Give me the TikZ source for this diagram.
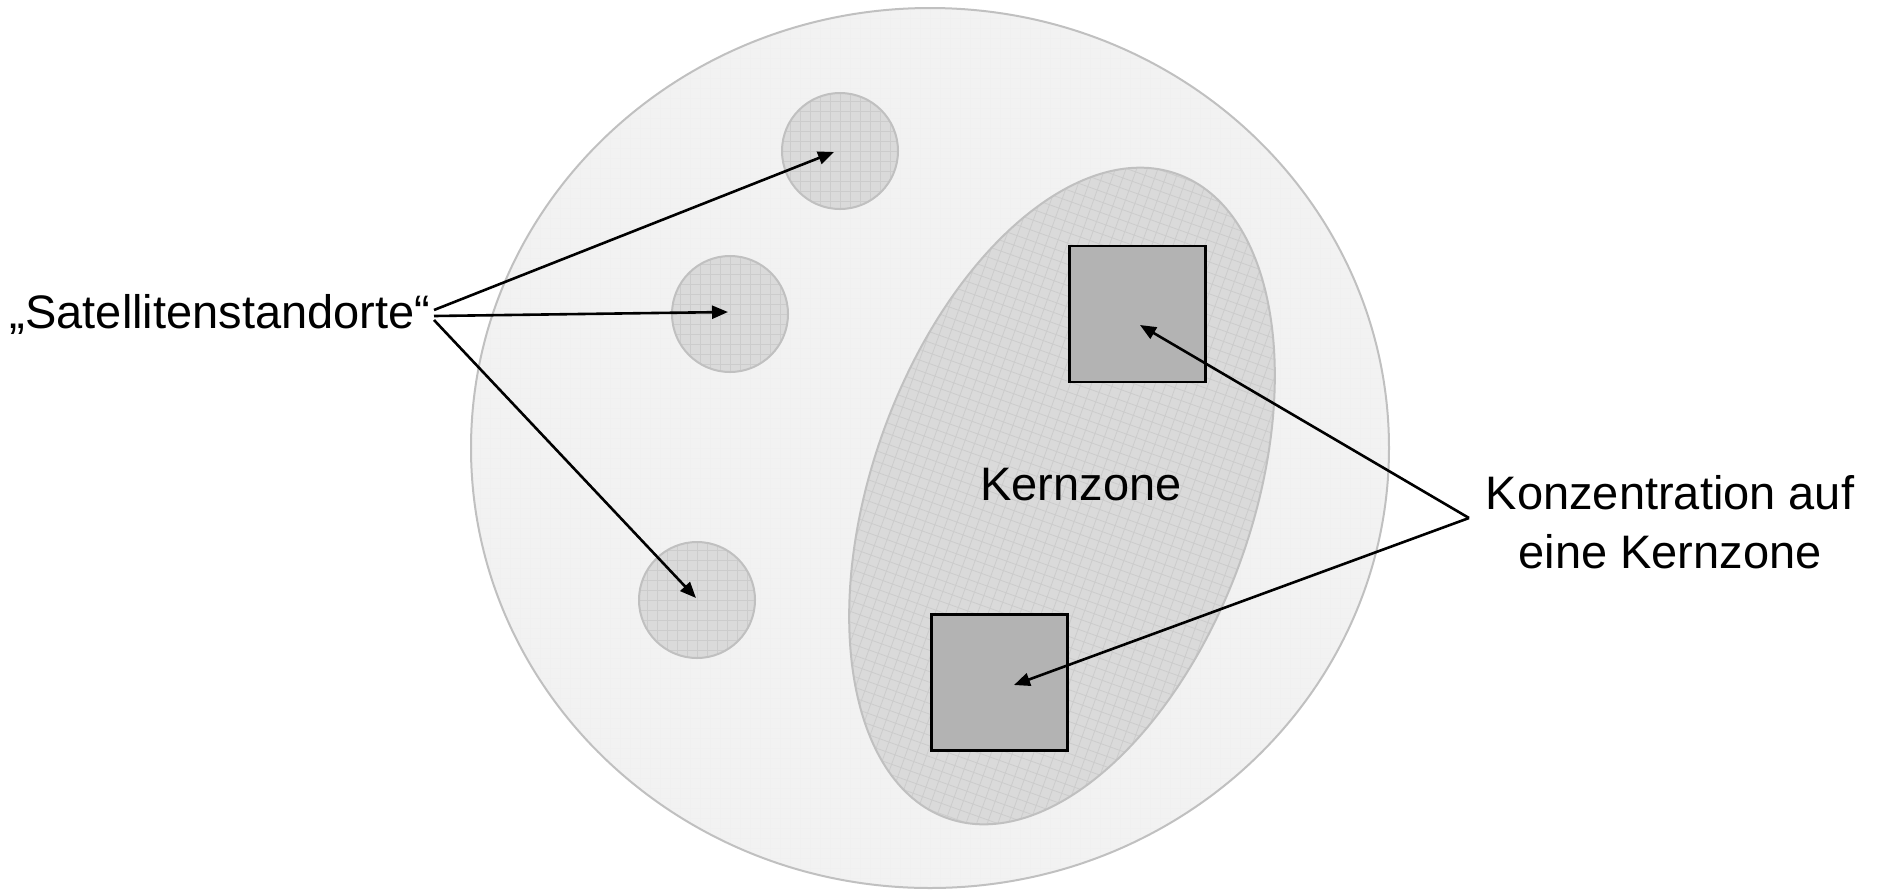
\documentclass[tikz,border=0pt]{standalone}
\usepackage{fontspec}
\setmainfont{Liberation Sans}
\usetikzlibrary{arrows.meta,shapes.geometric}

\definecolor{areafill}{HTML}{F2F2F2}
\definecolor{zonefill}{HTML}{DADADA}
\definecolor{zoneline}{HTML}{C0C0C0}
\definecolor{corefill}{HTML}{B3B3B3}

\tikzset{
  labeltext/.style={font=\fontsize{23.5}{29.4}\selectfont, align=center, inner sep=0pt},
  gridfill/.style={path picture={
      \draw[#1, line width=0.4pt]
        ([xshift=-240pt,yshift=-240pt]path picture bounding box.center)
        grid[step=5pt]
        ([xshift=240pt,yshift=240pt]path picture bounding box.center);}},
  area/.style={ellipse, draw=zoneline, line width=1pt, fill=areafill,
    gridfill=black!6, inner sep=0pt},
  satellite/.style={circle, draw=zoneline, line width=1pt, fill=zonefill,
    gridfill=black!20, minimum size=58pt, inner sep=0pt},
  corezone/.style={ellipse, draw=zoneline, line width=1pt, fill=zonefill,
    inner sep=0pt},
  corebox/.style={rectangle, draw=black, line width=1.2pt, fill=corefill,
    minimum size=68pt, inner sep=0pt},
  pointer/.style={-{Triangle[length=8pt,width=6.5pt]}, line width=1.3pt}
}

\begin{document}
\begin{tikzpicture}[x=0.5pt,y=-0.5pt]
  \useasboundingbox (0,0) rectangle (1881,890);

  % whole area and core zone
  \node[area, minimum width=459pt, minimum height=440pt] (gebiet) at (930,448) {};
  \node[corezone, gridfill={black!20,rotate=-70.3}, rotate=70.3,
    minimum width=342pt, minimum height=190pt] (kern) at (1062,496) {};

  % satellite sites
  \node[satellite] (sat1) at (840,151) {};
  \node[satellite] (sat2) at (730,314) {};
  \node[satellite] (sat3) at (697,600) {};

  % concentrated sites
  \node[corebox] (box1) at (1137.5,314) {};
  \node[corebox] (box2) at (999.5,682.5) {};

  \node[labeltext] (kernlabel) at (1081,485) {Kernzone};
  \node[labeltext] (satlabel) at (220,314) {„Satellitenstandorte“};
  \node[labeltext] (konzlabel) at (1670,522) {Konzentration auf\\eine Kernzone};

  \coordinate (satA) at (434,310);
  \coordinate (satB) at (434,316);
  \coordinate (satC) at (434,320);
  \coordinate (konzA) at (1469,518);

  \draw[pointer] (satA) -- (834,152);
  \draw[pointer] (satB) -- (728,312);
  \draw[pointer] (satC) -- (696,598);
  \draw[pointer] (konzA) -- (1140,325);
  \draw[pointer] (konzA) -- (1014,685);
\end{tikzpicture}
\end{document}
